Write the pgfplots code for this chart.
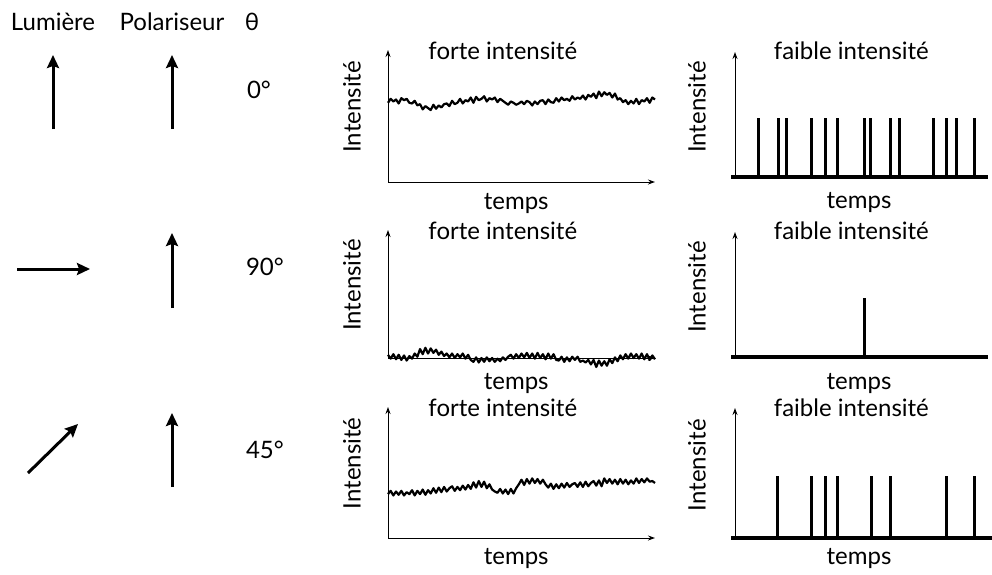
\documentclass[border=0pt]{standalone}
\usepackage{fontspec}
\setmainfont{Lato}
\usepackage{pgfplots}
\usepackage{pgfplotstable}
\pgfplotsset{compat=1.18}
\usetikzlibrary{arrows.meta}

% noise traces, one value per time step (0..100)
\pgfplotstableread{
y
6.0
6.3
6.1
6.25
5.95
6.35
6.2
6.3
6.0
5.95
6.15
5.8
5.9
5.5
5.75
5.6
5.45
5.85
5.55
5.8
5.65
5.9
5.95
5.75
6.15
5.9
6.0
6.3
5.95
6.2
6.1
6.4
6.0
6.45
6.2
6.3
6.5
6.1
6.35
6.25
6.4
6.05
6.3
6.15
6.0
5.85
6.1
6.0
5.85
5.95
6.1
5.9
6.15
6.05
5.8
6.1
5.9
6.15
6.2
5.9
6.25
6.05
6.0
6.35
6.1
6.4
6.2
6.3
6.15
6.5
6.25
6.4
6.3
6.55
6.25
6.6
6.45
6.7
6.35
6.85
6.5
6.8
6.6
6.75
6.4
6.7
6.25
6.35
6.05
6.2
5.9
6.15
5.95
6.3
5.9
6.2
6.1
6.35
6.0
6.4
6.25
}\noiseA

\pgfplotstableread{
y
0.25
-0.05
0.3
-0.1
0.25
-0.15
0.2
-0.2
0.15
-0.05
0.35
0.1
0.7
0.3
0.8
0.35
0.75
0.4
0.65
0.25
0.5
0.15
0.35
0.05
0.35
0.0
0.3
0.05
0.35
-0.05
0.25
-0.15
-0.3
0.05
-0.35
0.0
-0.3
0.05
-0.25
0.0
-0.3
-0.05
-0.25
0.05
-0.15
0.1
0.25
-0.05
0.3
0.0
0.35
0.05
0.4
0.0
0.35
-0.05
0.4
0.0
0.3
-0.1
0.35
-0.05
0.3
-0.15
-0.2
0.1
-0.3
0.05
-0.25
0.1
-0.15
0.1
-0.3
-0.2
-0.35
-0.15
-0.5
-0.15
-0.7
-0.2
-0.6
-0.25
-0.6
-0.1
-0.4
0.05
-0.25
0.2
-0.1
0.3
-0.05
0.35
0.0
0.3
-0.05
0.35
-0.1
0.3
-0.15
0.2
-0.1
}\noiseB

\pgfplotstableread{
y
3.35
3.6
3.25
3.55
3.3
3.6
3.25
3.5
3.35
3.65
3.25
3.6
3.35
3.7
3.3
3.65
3.4
3.8
3.45
3.85
3.5
3.9
3.55
3.8
3.95
3.6
3.9
3.65
4.0
3.7
4.05
3.75
4.25
3.85
4.35
3.9
4.3
3.8
4.1
3.7
3.55
3.45
3.75
3.4
3.7
3.35
3.75
3.4
3.8
4.1
4.45
4.05
4.5
4.15
4.55
4.2
4.5
4.15
4.45
4.1
3.85
4.15
3.75
4.1
3.8
4.15
3.85
4.2
3.9
4.1
4.2
3.9
4.25
3.9
4.3
3.95
4.2
4.35
4.0
4.4
3.95
4.55
4.2
4.5
4.15
4.45
4.1
4.5
4.15
4.45
4.1
4.4
4.15
4.55
4.2
4.5
4.25
4.55
4.3
4.35
4.2
}\noiseC

\pgfplotsset{
  panel/.style={
    scale only axis, anchor=south west,
    axis lines=left,
    xmin=0, xmax=100, ymin=0, ymax=10,
    xtick=\empty, ytick=\empty, clip=false,
    axis line style={line width=0.5pt, -{Stealth[length=3.5pt,width=2.5pt]}},
    ylabel={Intensité}, xlabel={temps},
  },
  forte/.style={panel, width=133.5pt, title={forte intensité},
    title style={at={(axis description cs:0.43,0.9)}, anchor=center},
    ylabel style={at={(axis description cs:-0.135,0.57)}, anchor=center}},
  faible/.style={panel, width=126.5pt, title={faible intensité},
    title style={at={(axis description cs:0.46,0.91)}, anchor=center},
    ylabel style={at={(axis description cs:-0.15,0.56)}, anchor=center},
    x axis line style={draw=none}},
  noise/.style={black, line width=1.1pt, line join=round},
  spikes/.style={black, ycomb, line width=1.5pt},
  base/.style={black, line width=1.6pt},
}

\begin{document}
\begin{tikzpicture}[every node/.style={font=\fontsize{12}{14}\selectfont}]
\useasboundingbox (0,0) rectangle (496pt,-287pt);

% headers
\node at (26.5pt,-11pt) {Lumière};
\node at (86pt,-11pt) {Polariseur};
\node at (126pt,-11pt) {θ};
\node[anchor=west] at (120pt,-45pt) {0°};
\node[anchor=west] at (119.5pt,-133.5pt) {90°};
\node[anchor=west] at (119.5pt,-225pt) {45°};

% polarisation arrows
\begin{scope}[line width=1.5pt, -{Stealth[length=6.5pt,width=6pt,inset=1pt]}]
\draw (26.5pt,-64.5pt) -- (26.5pt,-27.5pt);
\draw (86pt,-64.5pt) -- (86pt,-27.5pt);
\draw (8.5pt,-134.5pt) -- (45pt,-134.5pt);
\draw (86pt,-154pt) -- (86pt,-116.5pt);
\draw (14pt,-236.5pt) -- (39pt,-212pt);
\draw (86pt,-243.5pt) -- (86pt,-206.5pt);
\end{scope}

% row 1 : 0 deg
\begin{axis}[forte, at={(194pt,-91pt)}, height=66pt,
  xlabel style={at={(axis description cs:0.48,0)}, anchor=center, yshift=-10.5pt}]
\addplot[noise] table[x expr=\coordindex, y index=0] {\noiseA};
\end{axis}
\begin{axis}[faible, at={(367.5pt,-88.5pt)}, height=62.5pt,
  xlabel style={at={(axis description cs:0.49,0)}, anchor=center, yshift=-13pt}]
\addplot[base] coordinates {(-1.5,0) (100,0)};
\addplot[spikes] coordinates {(9.1,4.7) (17,4.7) (20.2,4.7) (30.4,4.7) (35.6,4.7) (40.7,4.7) (51,4.7) (53.4,4.7) (61.3,4.7) (65.2,4.7) (78.3,4.7) (83.4,4.7) (87.7,4.7) (94.5,4.7)};
\end{axis}

% row 2 : 90 deg
\begin{axis}[forte, at={(194pt,-179pt)}, height=64pt,
  xlabel style={at={(axis description cs:0.48,0)}, anchor=center, yshift=-12.5pt}]
\addplot[noise] table[x expr=\coordindex, y index=0] {\noiseB};
\end{axis}
\begin{axis}[faible, at={(367.5pt,-178.5pt)}, height=62.5pt,
  xlabel style={at={(axis description cs:0.49,0)}, anchor=center, yshift=-13pt}]
\addplot[base] coordinates {(-1.5,0) (100,0)};
\addplot[spikes] coordinates {(51,4.7)};
\end{axis}

% row 3 : 45 deg
\begin{axis}[forte, at={(194pt,-269pt)}, height=65.5pt,
  xlabel style={at={(axis description cs:0.48,0)}, anchor=center, yshift=-10pt}]
\addplot[noise] table[x expr=\coordindex, y index=0] {\noiseC};
\end{axis}
\begin{axis}[faible, at={(367.5pt,-269pt)}, height=65pt,
  xlabel style={at={(axis description cs:0.49,0)}, anchor=center, yshift=-10pt}]
\addplot[base] coordinates {(-1.5,0) (101.5,0)};
\addplot[spikes] coordinates {(16.6,4.8) (30.4,4.8) (35.6,4.8) (40.7,4.8) (53.8,4.8) (61.3,4.8) (83.4,4.8) (94.5,4.8)};
\end{axis}
\end{tikzpicture}
\end{document}
